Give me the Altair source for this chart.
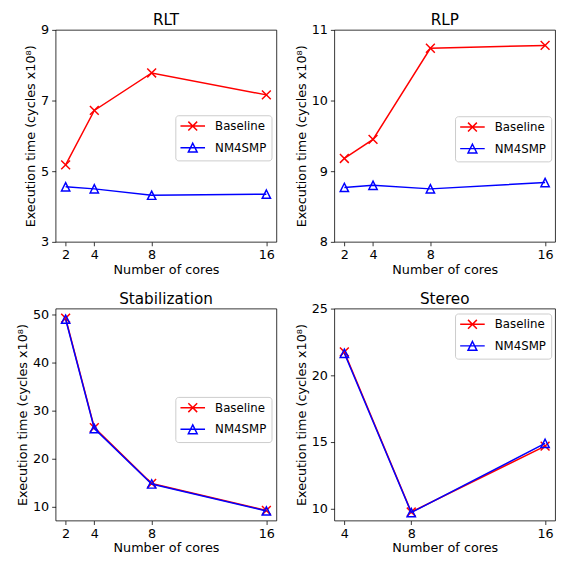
import altair as alt
import pandas as pd

# ---- data ----
cores = [2, 4, 8, 16]
rlt_baseline = [5.18, 6.72, 7.78, 7.16]
rlt_nm4smp = [4.56, 4.50, 4.32, 4.35]
rlp_baseline = [9.18, 9.45, 10.74, 10.78]
rlp_nm4smp = [8.77, 8.80, 8.75, 8.84]
stab_baseline = [49.2, 26.5, 14.9, 9.3]
stab_nm4smp = [49.0, 26.3, 14.8, 9.2]
stereo_cores = [4, 8, 16]
stereo_baseline = [21.75, 9.76, 14.70]
stereo_nm4smp = [21.65, 9.72, 14.90]

series_names = ["Baseline", "NM4SMP"]
series_colors = ["#ff0000", "#0000ff"]

FONT = "DejaVu Sans"
X_PATH = "M-1,-1L1,1M-1,1L1,-1"
TRI_PATH = "M0,-1L1,1L-1,1Z"
LEG_X = "M-1.28,0L4.28,0M0.5,-1L2.5,1M0.5,1L2.5,-1"
LEG_T = "M-1.28,0L4.28,0M1.5,-1L2.5,1L0.5,1Z"
YTITLE = "Execution time (cycles x10\u2078)"


def panel(title, xs, base, nm, xdom, xticks, ydom, yticks, lx, ly, toff):
    df = pd.DataFrame({
        "cores": xs + xs,
        "time": base + nm,
        "series": [series_names[0]] * len(xs) + [series_names[1]] * len(xs),
    })
    x = alt.X("cores:Q", scale=alt.Scale(domain=xdom, nice=False, zero=False),
              axis=alt.Axis(values=xticks, title="Number of cores", format="d"))
    y = alt.Y("time:Q", scale=alt.Scale(domain=ydom, nice=False, zero=False),
              axis=alt.Axis(values=yticks, title=YTITLE, format="d"))
    c = alt.Chart(df)
    layers = []
    for s, col, path, sz in [(series_names[0], series_colors[0], X_PATH, 81),
                             (series_names[1], series_colors[1], TRI_PATH, 72)]:
        sub = c.transform_filter(alt.datum.series == s)
        layers.append(sub.mark_line(color=col, strokeWidth=1.5).encode(x=x, y=y))
        layers.append(sub.mark_point(shape=path, color=col, filled=False, size=sz,
                                     strokeWidth=1.5, opacity=1).encode(x=x, y=y))
    leg = alt.Legend(title=None, orient="none", legendX=lx, legendY=ly,
                     fillColor="white", strokeColor="#cccccc", cornerRadius=3,
                     padding=5, symbolSize=81, symbolStrokeWidth=1.5,
                     symbolOpacity=1, labelFontSize=12, labelFont=FONT,
                     labelColor="black", rowPadding=6, labelOffset=23.5)
    legend_layer = c.mark_point(opacity=0, filled=False).encode(
        x=x, y=y,
        color=alt.Color("series:N", scale=alt.Scale(domain=series_names, range=series_colors), legend=leg),
        shape=alt.Shape("series:N", scale=alt.Scale(domain=series_names, range=[LEG_X, LEG_T]), legend=leg),
    )
    return alt.layer(*layers, legend_layer).properties(
        width=225, height=216, title=alt.TitleParams(title, frame="group", offset=toff))


p1 = panel("RLT", cores, rlt_baseline, rlt_nm4smp, [1.3, 16.7], cores, [3, 9], [3, 5, 7, 9], 122, 87, -5)
p2 = panel("RLP", cores, rlp_baseline, rlp_nm4smp, [1.3, 16.7], cores, [8, 11], [8, 9, 10, 11], 123, 88, -5)
p3 = panel("Stabilization", cores, stab_baseline, stab_nm4smp, [1.3, 16.7], cores, [7.2, 51.2], [10, 20, 30, 40, 50], 122, 90, 1)
p4 = panel("Stereo", stereo_cores, stereo_baseline, stereo_nm4smp, [3.4, 16.6], stereo_cores, [9.12, 25], [10, 15, 20, 25], 123, 5, -5)

chart = alt.concat(
    p1, p2, p3, p4, columns=2, spacing={"row": 68, "column": 59}, bounds="flush"
).resolve_scale(
    color="independent", shape="independent", x="independent", y="independent"
).resolve_legend(
    color="independent", shape="independent"
).properties(
    background="white", padding={"left": 8.5, "top": 0, "right": 5, "bottom": 5}
).configure_view(
    stroke="black", strokeWidth=0.8
).configure_axis(
    domain=False, grid=False, tickColor="black", tickSize=4, tickWidth=0.8,
    labelFont=FONT, labelFontSize=13, labelColor="black", labelPadding=3,
    titleFont=FONT, titleFontSize=13, titleFontWeight="normal", titleColor="black",
    titlePadding=3,
).configure_axisX(
    titlePadding=2
).configure_title(
    font=FONT, fontSize=15.5, fontWeight="normal", color="black", anchor="middle"
)

chart.save("out.html", embed_options={"renderer": "svg", "actions": False})
